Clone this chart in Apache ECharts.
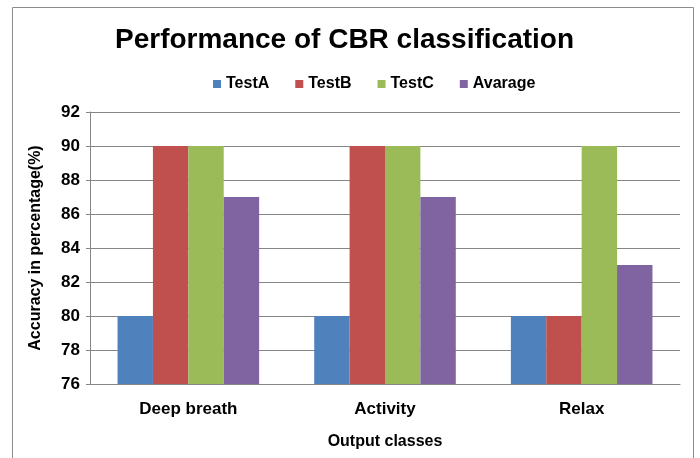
<!DOCTYPE html>
<html>
<head>
<meta charset="utf-8">
<script src="https://cdn.jsdelivr.net/npm/echarts@6/dist/echarts.min.js"></script>
<style>
  html, body { margin: 0; padding: 0; background: #fff; }
  #chartBox { width: 700px; height: 458px; }
</style>
</head>
<body>
<div id="chartBox"></div>
<script>
// 数据
var categories = ["Deep breath", "Activity", "Relax"];
var testA = [80, 80, 80];
var testB = [90, 90, 80];
var testC = [90, 90, 90];
var avarage = [87, 87, 83];

var myChart = echarts.init(document.getElementById("chartBox"));
var font = "Liberation Sans, Arial, sans-serif";

function bar(name, data, color) {
  return {
    name: name,
    type: "bar",
    data: data,
    barGap: "0%",
    barCategoryGap: "28%",
    itemStyle: { color: color }
  };
}

var option = {
  animation: false,
  textStyle: { fontFamily: font },
  graphic: [
    {
      type: "rect",
      shape: { x: 12.5, y: 7.5, width: 681, height: 470 },
      style: { fill: null, stroke: "#8c8c8c", lineWidth: 1 }
    }
  ],
  title: {
    text: "Performance of CBR classification",
    left: 110,
    top: 21,
    textStyle: { fontSize: 28, fontWeight: "bold", color: "#000", fontFamily: font }
  },
  legend: {
    top: 71,
    left: 208,
    itemWidth: 8,
    itemHeight: 8,
    itemGap: 26,
    icon: "rect",
    textStyle: { fontSize: 16, fontWeight: "bold", color: "#000", fontFamily: font },
    data: ["TestA", "TestB", "TestC", "Avarage"]
  },
  grid: { left: 90, right: 20, top: 112, bottom: 74 },
  xAxis: {
    type: "category",
    data: categories,
    name: "Output classes",
    nameLocation: "middle",
    nameGap: 50,
    nameTextStyle: { fontSize: 16, fontWeight: "bold", color: "#000" },
    axisLine: { lineStyle: { color: "#868686" } },
    axisTick: { show: false },
    axisLabel: { fontSize: 17, fontWeight: "bold", color: "#000", margin: 17 }
  },
  yAxis: {
    type: "value",
    min: 76,
    max: 92,
    interval: 2,
    name: "Accuracy in percentage(%)",
    nameLocation: "middle",
    nameGap: 46,
    nameTextStyle: { fontSize: 16, fontWeight: "bold", color: "#000" },
    axisLine: { show: true, lineStyle: { color: "#868686" } },
    axisTick: { show: true, length: 4, lineStyle: { color: "#868686" } },
    axisLabel: { fontSize: 17, fontWeight: "bold", color: "#000", margin: 10 },
    splitLine: { lineStyle: { color: "#868686" } }
  },
  series: [
    bar("TestA", testA, "#4f81bd"),
    bar("TestB", testB, "#c0504d"),
    bar("TestC", testC, "#9bbb59"),
    bar("Avarage", avarage, "#8064a2")
  ]
};

myChart.setOption(option);
</script>
</body>
</html>
